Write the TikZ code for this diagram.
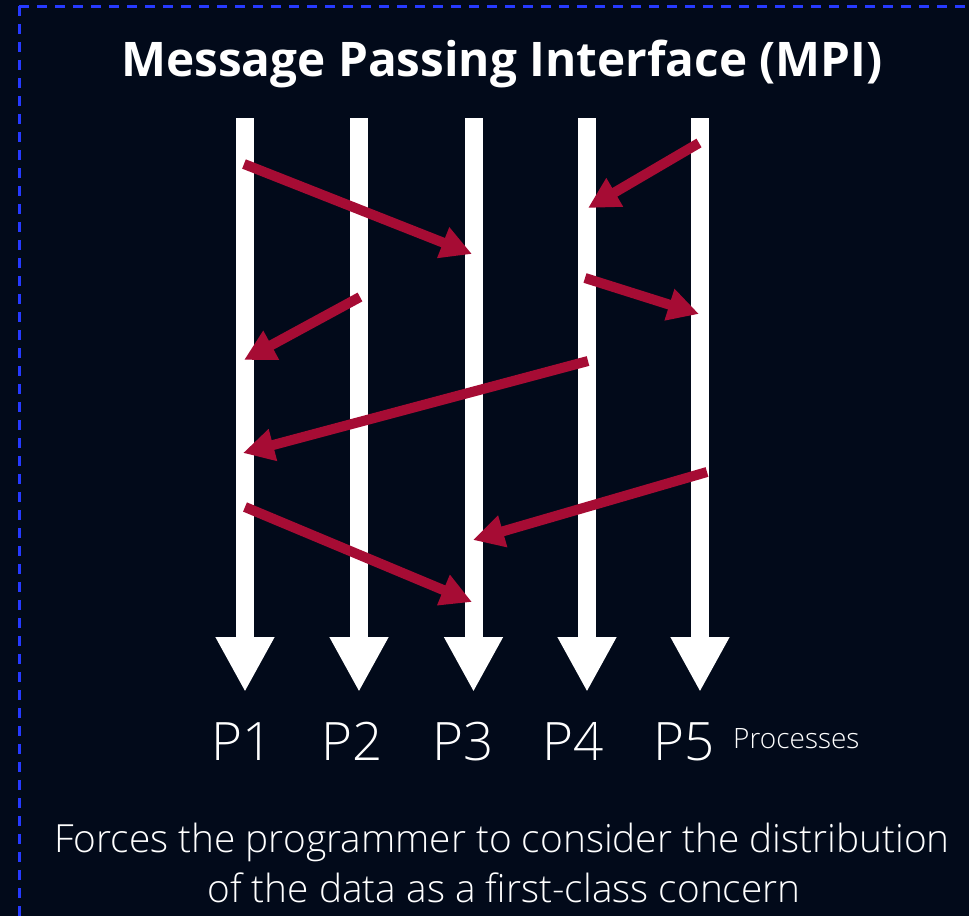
\documentclass[tikz,border=0pt]{standalone}
\usepackage{fontspec}
\setmainfont{Open Sans}
\newfontfamily\lightfont{Open Sans Light}
\usetikzlibrary{arrows.meta}

\definecolor{bgnavy}{RGB}{2,10,26}
\definecolor{msgred}{RGB}{166,12,52}
\definecolor{borderblue}{RGB}{38,58,255}

\tikzset{
	process/.style={white, line width=18pt, -{Triangle[width=55pt, length=55pt]}},
	message/.style={msgred, line width=10pt, -{Triangle[width=31pt, length=31pt]}},
	frame/.style={borderblue, line width=3pt, dash pattern=on 10pt off 8pt},
	plabel/.style={white, anchor=base, inner sep=0pt, font=\lightfont\fontsize{53}{60}\selectfont},
	caption/.style={white, anchor=base, inner sep=0pt, font=\lightfont\fontsize{38.8}{44}\selectfont},
}

\begin{document}
\begin{tikzpicture}[x=1pt, y=-1pt]
	\useasboundingbox (0,0) rectangle (969,916);
	\clip (0,0) rectangle (969,916);
	\fill[bgnavy] (0,0) rectangle (969,916);
	\draw[frame] (19,6) -- (19,930);
	\draw[frame] (19,6) -- (990,6);

	\node[white, anchor=base, inner sep=0pt, font=\bfseries\fontsize{47.7}{54}\selectfont] (title) at (502,76) {Message Passing Interface (MPI)};

	% the five processes
	\foreach \i/\x in {1/245,2/359,3/473.5,4/587,5/700} {
		\coordinate (top\i) at (\x,118);
		\coordinate (end\i) at (\x,692);
		\draw[process] (top\i) -- (end\i);
	}
	\foreach \i in {1,...,5} {
		\node[plabel] (p\i) at (242+110.5*\i-110.5,760) {P\i};
	}
	\node[white, anchor=base west, inner sep=0pt, font=\lightfont\fontsize{28}{32}\selectfont] (procs) at (733,748) {Processes};

	% messages between processes
	\foreach \n/\xa/\ya/\xb/\yb in {1/244/164/472/254, 2/699/143/588/208, 3/360/297/244/360, 4/585/278/699/314, 5/588/361/243/453, 6/707/472/473/540, 7/245/507/472/602} {
		\coordinate (send\n) at (\xa,\ya);
		\coordinate (recv\n) at (\xb,\yb);
		\draw[message] (send\n) -- (recv\n);
	}

	\node[caption] (line1) at (502,852) {Forces the programmer to consider the distribution};
	\node[caption] (line2) at (504,902) {of the data as a first-class concern};
\end{tikzpicture}
\end{document}
